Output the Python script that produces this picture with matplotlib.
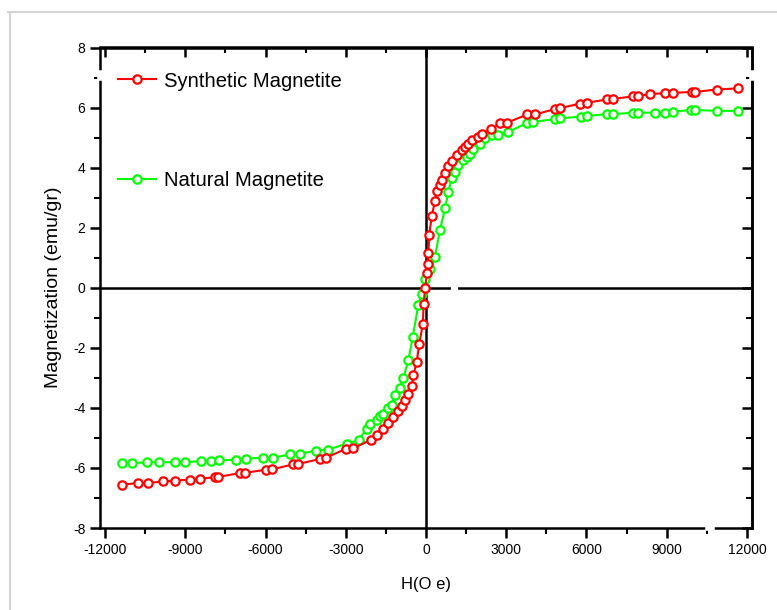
import matplotlib
matplotlib.use('Agg')
import matplotlib.pyplot as plt
import matplotlib.ticker as mticker
from matplotlib.lines import Line2D
import numpy as np

plt.rcParams['font.family'] = ['Liberation Sans', 'DejaVu Sans']
plt.rcParams['axes.unicode_minus'] = False

# Synthetic magnetite (H in Oe, M in emu/gr)
h_syn = [-11376, -10754, -10380, -9820, -9383, -8822, -8437, -7888, -7764, -6953,
         -6766, -5981, -5768, -4960, -4773, -3963, -3738, -2990, -2717, -2056,
         -1844, -1595, -1408, -1221, -1034, -908, -780, -660, -540, -475,
         -348, -250, -120, -90, -30, 40, 60, 87, 125, 212,
         336, 399, 523, 586, 710, 835, 960, 1146, 1334, 1458,
         1570, 1707, 1956, 2100, 2430, 2766, 3040, 3788, 4075, 4822,
         5009, 5757, 6006, 6778, 7003, 7726, 7937, 8374, 8935, 9246,
         9931, 10056, 10866, 11675]
m_syn = [-6.56, -6.50, -6.50, -6.45, -6.42, -6.39, -6.36, -6.31, -6.30, -6.17,
         -6.16, -6.06, -6.05, -5.88, -5.87, -5.70, -5.66, -5.36, -5.35, -5.06,
         -4.90, -4.72, -4.52, -4.29, -4.10, -3.94, -3.75, -3.53, -3.28, -2.92,
         -2.47, -1.86, -1.22, -0.55, 0.0, 0.50, 0.80, 1.16, 1.77, 2.38,
         2.88, 3.21, 3.43, 3.60, 3.82, 4.04, 4.22, 4.43, 4.59, 4.69,
         4.78, 4.91, 5.03, 5.12, 5.27, 5.47, 5.50, 5.77, 5.77, 5.95,
         5.98, 6.13, 6.16, 6.27, 6.29, 6.37, 6.37, 6.46, 6.47, 6.49,
         6.52, 6.52, 6.60, 6.64]

# Natural magnetite
h_nat = [-11376, -11002, -10418, -9970, -9383, -9010, -8423, -8050, -7738, -7102,
         -6728, -6081, -5731, -5084, -4710, -4100, -3663, -2960, -2523, -2218,
         -2093, -1844, -1720, -1595, -1420, -1283, -1159, -980, -847, -660,
         -497, -287, -162, -37, 150, 336, 523, 710, 835, 960,
         1084, 1209, 1396, 1520, 1645, 1770, 2019, 2206, 2456, 2703,
         3078, 3788, 4012, 4822, 5009, 5800, 6006, 6778, 7003, 7750,
         7937, 8561, 8935, 9246, 9893, 10056, 10866, 11675]
m_nat = [-5.84, -5.84, -5.81, -5.81, -5.81, -5.81, -5.77, -5.77, -5.75, -5.72,
         -5.69, -5.66, -5.66, -5.55, -5.53, -5.42, -5.39, -5.19, -5.08, -4.69,
         -4.53, -4.42, -4.28, -4.19, -4.02, -3.90, -3.58, -3.35, -3.00, -2.42,
         -1.64, -0.58, -0.20, 0.30, 0.64, 1.03, 1.92, 2.64, 3.19, 3.64,
         3.87, 4.08, 4.25, 4.36, 4.45, 4.62, 4.78, 4.97, 5.08, 5.10,
         5.19, 5.49, 5.53, 5.61, 5.64, 5.70, 5.72, 5.78, 5.78, 5.83,
         5.83, 5.83, 5.83, 5.86, 5.92, 5.92, 5.89, 5.89]

x_ticks = np.arange(-12000, 12001, 3000)
y_ticks = np.arange(-8, 9, 2)

fig = plt.figure(figsize=(7.77, 6.10), dpi=100)
ax = fig.add_axes([100 / 777, 1 - 528 / 610, 652 / 777, 480.5 / 610])

# cadre gris autour de l'image
fig.add_artist(Line2D([8 / 777, 1], [1 - 12 / 610, 1 - 12 / 610],
                      color='#d4d4d4', lw=1.5, transform=fig.transFigure))
fig.add_artist(Line2D([10 / 777, 10 / 777], [0, 1 - 12 / 610],
                      color='#d4d4d4', lw=1.5, transform=fig.transFigure))

ax.axhline(0, color='black', lw=1.8, zorder=1)
ax.axvline(0, color='black', lw=1.8, zorder=1)

ax.plot(h_nat, m_nat, '-o', color='#00ff00', lw=1.5, ms=6, mew=1.6,
        mfc='white', label='Natural Magnetite', zorder=3)
ax.plot(h_syn, m_syn, '-o', color='#ff0000', lw=1.5, ms=6, mew=1.6,
        mfc='white', label='Synthetic Magnetite', zorder=4)

ax.set_xlim(-12190, 12190)
ax.set_ylim(-8, 8)
ax.set_xticks(x_ticks)
ax.set_yticks(y_ticks)
ax.xaxis.set_minor_locator(mticker.MultipleLocator(1500))
ax.yaxis.set_minor_locator(mticker.MultipleLocator(1))
ax.tick_params(which='major', direction='out', length=7, width=1.8, labelsize=10)
ax.tick_params(which='minor', direction='out', length=4, width=1.5)
for s in ax.spines.values():
    s.set_linewidth(1.8)

# ticks miroir vers l'interieur (haut et droite)
top = ax.secondary_xaxis('top')
top.set_xticks(x_ticks)
top.xaxis.set_minor_locator(mticker.MultipleLocator(1500))
top.tick_params(which='major', direction='in', length=7, width=1.8, labeltop=False)
top.tick_params(which='minor', direction='in', length=4, width=1.5)
top.spines['top'].set_linewidth(1.8)
right = ax.secondary_yaxis('right')
right.set_yticks(y_ticks)
right.yaxis.set_minor_locator(mticker.MultipleLocator(1))
right.tick_params(which='major', direction='in', length=7, width=1.8, labelright=False)
right.tick_params(which='minor', direction='in', length=4, width=1.5)
right.spines['right'].set_linewidth(1.8)

# petites coupures des axes (comme Origin)
ax.plot([10540, 10700], [-8, -8], color='white', lw=4, clip_on=False, zorder=10)
ax.plot([-12190, -12190], [7.0, 7.15], color='white', lw=4, clip_on=False, zorder=10)
ax.plot([12190, 12190], [7.0, 7.15], color='white', lw=4, clip_on=False, zorder=10)
ax.plot([1000, 1140], [0, 0], color='white', lw=3, zorder=2)

ax.set_xlabel('H(O e)', fontsize=12, labelpad=15)
ax.set_ylabel('Magnetization (emu/gr)', fontsize=14, labelpad=8)

handles, labels = ax.get_legend_handles_labels()
ax.legend(handles[::-1], labels[::-1], loc='upper left',
          bbox_to_anchor=(18 / 652, 0.95), frameon=False, fontsize=14.6,
          handlelength=1.85, handletextpad=0.4, labelspacing=3.95,
          borderpad=0, borderaxespad=0)

fig.savefig('out.png', dpi=100)
